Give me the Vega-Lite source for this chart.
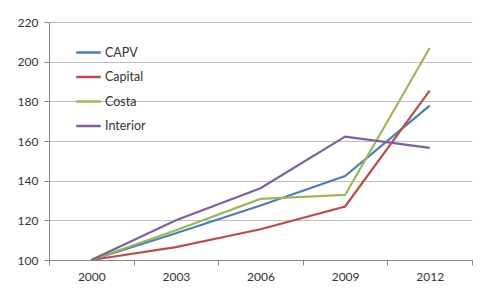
{
  "$schema": "https://vega.github.io/schema/vega-lite/v6.json",
  "width": 423,
  "height": 238,
  "autosize": {"type": "none"},
  "padding": {"left": 49, "top": 22, "right": 9, "bottom": 31},
  "background": "white",
  "config": {
    "view": {"stroke": null},
    "font": "Lato",
    "axis": {"labelFont": "Lato", "labelFontSize": 12, "labelColor": "#333333", "domainColor": "#878787", "tickColor": "#878787", "gridColor": "#BFBFBF", "title": null}
  },
  "data": {
    "values": [
      {"year": "2000", "region": "CAPV", "value": 100},
      {"year": "2003", "region": "CAPV", "value": 113.5},
      {"year": "2006", "region": "CAPV", "value": 127.5},
      {"year": "2009", "region": "CAPV", "value": 142.3},
      {"year": "2012", "region": "CAPV", "value": 177.8},
      {"year": "2000", "region": "Capital", "value": 100},
      {"year": "2003", "region": "Capital", "value": 106.5},
      {"year": "2006", "region": "Capital", "value": 115.5},
      {"year": "2009", "region": "Capital", "value": 127},
      {"year": "2012", "region": "Capital", "value": 185.4},
      {"year": "2000", "region": "Costa", "value": 100},
      {"year": "2003", "region": "Costa", "value": 115},
      {"year": "2006", "region": "Costa", "value": 130.8},
      {"year": "2009", "region": "Costa", "value": 132.8},
      {"year": "2012", "region": "Costa", "value": 206.9},
      {"year": "2000", "region": "Interior", "value": 100},
      {"year": "2003", "region": "Interior", "value": 120},
      {"year": "2006", "region": "Interior", "value": 136.2},
      {"year": "2009", "region": "Interior", "value": 162.2},
      {"year": "2012", "region": "Interior", "value": 156.5}
    ]
  },
  "mark": {"type": "line", "strokeWidth": 2.2},
  "encoding": {
    "x": {
      "field": "year", "type": "ordinal",
      "scale": {"type": "band", "paddingInner": 0, "paddingOuter": 0},
      "axis": {"labelAngle": 0, "tickBand": "extent", "grid": false, "tickSize": 5, "labelPadding": 6}
    },
    "y": {
      "field": "value", "type": "quantitative",
      "scale": {"domain": [100, 220], "nice": false, "zero": false},
      "axis": {"values": [100, 120, 140, 160, 180, 200, 220], "tickSize": 5, "labelPadding": 6, "grid": true}
    },
    "color": {
      "field": "region", "type": "nominal",
      "scale": {"domain": ["CAPV", "Capital", "Costa", "Interior"], "range": ["#4A7EBB", "#BE4B48", "#98B954", "#7D60A0"]},
      "legend": {
        "title": null, "orient": "none", "legendX": 26, "legendY": 17,
        "symbolType": "stroke", "symbolSize": 600, "symbolStrokeWidth": 2.5,
        "rowPadding": 4.5, "labelOffset": 3, "labelFontSize": 12.5, "labelFont": "Lato", "labelColor": "#333333", "padding": 0
      }
    }
  }
}
